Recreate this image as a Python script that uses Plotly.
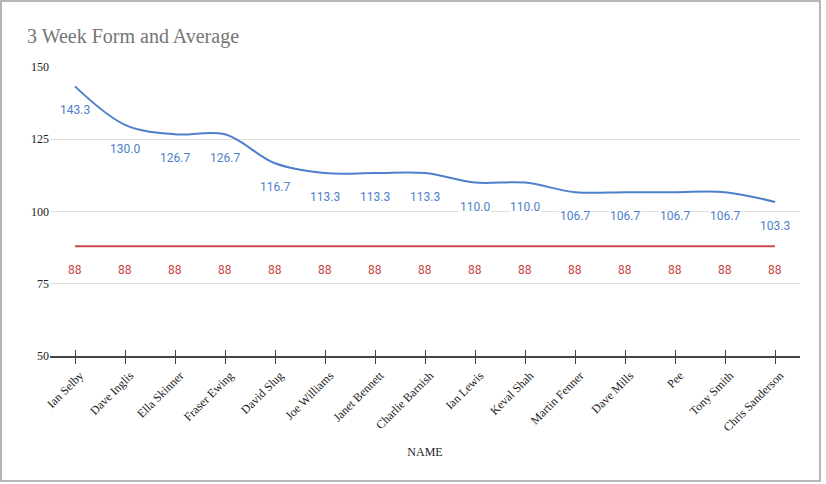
import plotly.graph_objects as go

names = ["Ian Selby", "Dave Inglis", "Ella Skinner", "Fraser Ewing", "David Slug",
         "Joe Williams", "Janet Bennett", "Charlie Barnish", "Ian Lewis", "Keval Shah",
         "Martin Fenner", "Dave Mills", "Pee", "Tony Smith", "Chris Sanderson"]
form = [143.3, 130.0, 126.7, 126.7, 116.7, 113.3, 113.3, 113.3, 110.0, 110.0,
        106.7, 106.7, 106.7, 106.7, 103.3]
average = [88] * 15
y_ticks = [50, 75, 100, 125, 150]

BLUE = "#4d80ca"
RED = "#cc4747"
SERIF = "Liberation Serif, Times New Roman, serif"
SANS = "Roboto, Arial, sans-serif"

W, H = 826, 484
L, R, T, B = 50, 26, 67, 128
pw, ph = W - L - R, H - T - B

fig = go.Figure()
fig.add_trace(go.Scatter(x=names, y=form, mode="lines", line=dict(color=BLUE, width=2, shape="spline", smoothing=1.0),
                         name="Form", hoverinfo="x+y"))
fig.add_trace(go.Scatter(x=names, y=average, mode="lines", line=dict(color=RED, width=2),
                         name="Average", hoverinfo="x+y"))
# invisible trace for the inside ticks axis
fig.add_trace(go.Scatter(x=names, y=average, mode="lines", line=dict(width=0), opacity=0,
                         xaxis="x2", showlegend=False, hoverinfo="skip"))

annotations = []
for n, v in zip(names, form):
    annotations.append(dict(x=n, y=v, text=f"{v:.1f}", showarrow=False, yshift=-24,
                            font=dict(family=SANS, size=12, color=BLUE), bgcolor="white", borderpad=0))
for n, v in zip(names, average):
    annotations.append(dict(x=n, y=v, text=f"{v}", showarrow=False, yshift=-24,
                            font=dict(family=SANS, size=12, color=RED), bgcolor="white", borderpad=0))

axis_common = dict(type="category", categoryorder="array", categoryarray=names, range=[-0.5, 14.5])

fig.update_layout(
    width=W, height=H,
    margin=dict(l=L, r=R, t=T, b=B),
    paper_bgcolor="white", plot_bgcolor="white",
    showlegend=False,
    title=dict(text="3 Week Form and Average", x=27 / W, xanchor="left", y=1 - 36 / H, yanchor="middle",
               font=dict(family=SERIF, size=20, color="#757575")),
    xaxis=dict(**axis_common, showgrid=False, showline=True, linecolor="#444444", linewidth=1.5,
               ticks="outside", ticklen=6, tickwidth=1.2, tickcolor="#444444",
               tickangle=-45, ticklabelshift=5, tickfont=dict(family=SERIF, size=12, color="#222222"),
               title=dict(text="NAME", font=dict(family=SERIF, size=12, color="#222222"), standoff=14),
               zeroline=False),
    xaxis2=dict(**axis_common, overlaying="x", anchor="y", side="bottom", showgrid=False,
                showline=False, ticks="inside", ticklen=6, tickwidth=1.2, tickcolor="#444444",
                showticklabels=False, zeroline=False),
    yaxis=dict(range=[50, 150], tickvals=y_ticks, showgrid=True, gridcolor="#e0e0e0", gridwidth=1,
               zeroline=False, showline=False, ticks="", ticklen=0,
               tickfont=dict(family=SERIF, size=12, color="#222222")),
    annotations=annotations,
    shapes=[dict(type="rect", xref="paper", yref="paper",
                 x0=(1 - L) / pw, x1=(820 - L) / pw,
                 y0=(H - B - 481) / ph, y1=(H - B - 1) / ph,
                 line=dict(color="#9e9e9e", width=1.5), fillcolor="rgba(0,0,0,0)", layer="below")],
)

fig.write_html("out.html", config={"displayModeBar": False},
               post_script="document.body.style.margin='0';")
